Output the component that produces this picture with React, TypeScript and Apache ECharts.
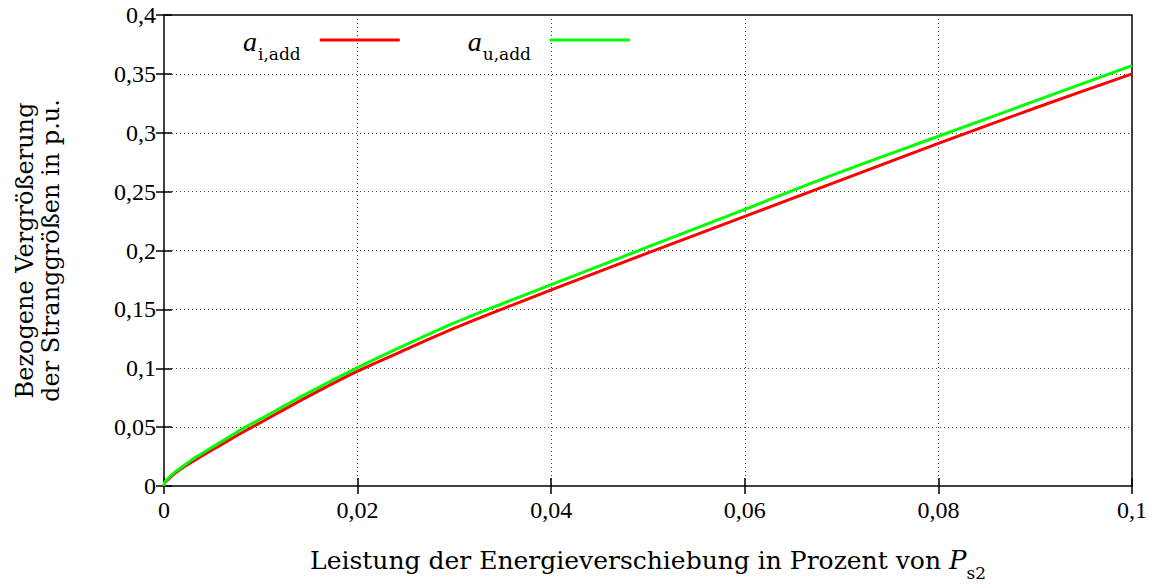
import React, { useEffect, useRef } from "react";
import * as echarts from "echarts";

const xValues = [0, 0.0001, 0.0005, 0.001, 0.002, 0.003, 0.004, 0.006, 0.008, 0.01, 0.015, 0.02, 0.025, 0.03, 0.035, 0.04, 0.05, 0.06, 0.07, 0.08, 0.09, 0.1];
const aIadd = [0, 0.003, 0.006, 0.010, 0.016, 0.021, 0.026, 0.0355, 0.045, 0.054, 0.0765, 0.0975, 0.116, 0.134, 0.1505, 0.1665, 0.198, 0.229, 0.260, 0.291, 0.321, 0.350];
const aUadd = [0, 0.0035, 0.007, 0.011, 0.017, 0.023, 0.028, 0.038, 0.048, 0.057, 0.0795, 0.1005, 0.120, 0.1385, 0.155, 0.171, 0.203, 0.235, 0.267, 0.297, 0.327, 0.357];
const seriesNames = ["a_i,add", "a_u,add"];
const seriesColors = ["#ff0000", "#00ff00"];
const xTitle = "Leistung der Energieverschiebung in Prozent von ";
const yTitle = ["Bezogene Vergrößerung", "der Stranggrößen in p.u."];

const FONT = "'Liberation Serif', serif";
const WFONT = "'DejaVu Serif', serif";

const fmt = (v: number) => String(+v.toFixed(4)).replace(".", ",");

export default function App() {
  const ref = useRef<HTMLDivElement>(null);
  useEffect(() => {
    if (!ref.current) return;
    const chart = echarts.init(ref.current, null, { renderer: "svg" });
    const mk = (ys: number[]) => xValues.map((x, i) => [x, ys[i]]);
    const tickStyle = { show: true, inside: true, length: 8, lineStyle: { color: "#000", width: 1.5 } };
    const splitStyle = { show: true, lineStyle: { color: "#444", type: [1, 3] as any, width: 1 } };
    chart.setOption({
      animation: false,
      backgroundColor: "#fff",
      textStyle: { fontFamily: FONT },
      grid: { left: 164, right: 23, top: 15, bottom: 91, show: true, borderColor: "#000", borderWidth: 1.5, backgroundColor: "transparent" },
      legend: {
        top: 22,
        left: 238,
        align: "right",
        icon: "rect",
        itemWidth: 80,
        itemHeight: 3,
        itemGap: 68,
        data: seriesNames,
        formatter: (n: string) => {
          const parts = n.split("_");
          return `{a|${parts[0]}}{s|${parts[1]}}`;
        },
        textStyle: {
          rich: {
            a: { fontFamily: FONT, fontStyle: "italic", fontSize: 28, color: "#000", lineHeight: 30, verticalAlign: "bottom" },
            s: { fontFamily: WFONT, fontSize: 17, color: "#000", lineHeight: 18, verticalAlign: "bottom", padding: [0, 14, -7, 1] },
          },
        },
      },
      xAxis: [
        {
          type: "value",
          min: 0,
          max: 0.1,
          interval: 0.02,
          position: "bottom",
          axisLine: { show: false },
          axisTick: tickStyle,
          splitLine: splitStyle,
          axisLabel: { formatter: fmt, color: "#000", fontSize: 24, fontFamily: FONT, margin: 12 },
          name: `${xTitle}{p|P}{s|s2}`,
          nameLocation: "middle",
          nameGap: 61,
          nameTextStyle: {
            color: "#000",
            fontSize: 25,
            fontFamily: WFONT,
            rich: {
              p: { fontStyle: "italic", fontSize: 26, fontFamily: WFONT, color: "#000" },
              s: { fontSize: 17, fontFamily: WFONT, color: "#000", verticalAlign: "bottom", padding: [0, 0, -8, 0] },
            },
          },
        },
        {
          type: "value",
          min: 0,
          max: 0.1,
          interval: 0.02,
          position: "top",
          axisLine: { show: false },
          axisTick: tickStyle,
          splitLine: { show: false },
          axisLabel: { show: false },
        },
      ],
      yAxis: [
        {
          type: "value",
          min: 0,
          max: 0.4,
          interval: 0.05,
          position: "left",
          axisLine: { show: false },
          axisTick: tickStyle,
          splitLine: splitStyle,
          axisLabel: { formatter: fmt, color: "#000", fontSize: 24, fontFamily: FONT, margin: 8 },
          name: yTitle.join("\n"),
          nameLocation: "middle",
          nameGap: 100,
          nameRotate: 90,
          nameTextStyle: { color: "#000", fontSize: 24, fontFamily: WFONT, lineHeight: 26, align: "center" },
        },
        {
          type: "value",
          min: 0,
          max: 0.4,
          interval: 0.05,
          position: "right",
          axisLine: { show: false },
          axisTick: tickStyle,
          splitLine: { show: false },
          axisLabel: { show: false },
        },
      ],
      series: [
        {
          name: seriesNames[0],
          type: "line",
          data: mk(aIadd),
          showSymbol: false,
          smooth: 0.3,
          lineStyle: { color: seriesColors[0], width: 3 },
          itemStyle: { color: seriesColors[0] },
          z: 3,
        },
        {
          name: seriesNames[1],
          type: "line",
          data: mk(aUadd),
          showSymbol: false,
          smooth: 0.3,
          lineStyle: { color: seriesColors[1], width: 3 },
          itemStyle: { color: seriesColors[1] },
          z: 4,
        },
      ],
    });
    return () => chart.dispose();
  }, []);
  return <div ref={ref} style={{ position: "fixed", left: 0, top: 0, width: 1155, height: 586 }} />;
}
